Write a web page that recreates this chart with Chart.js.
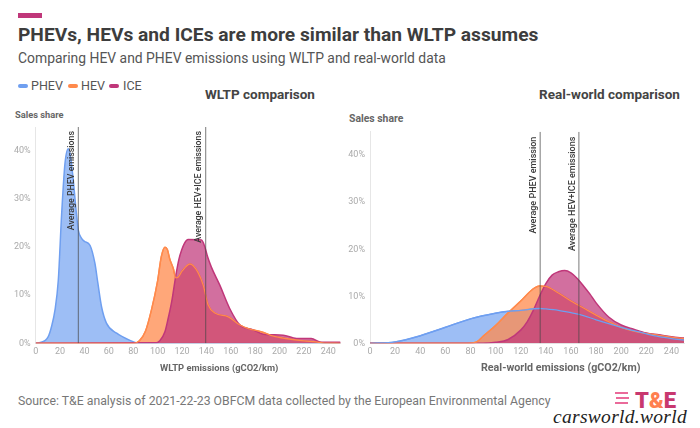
<!DOCTYPE html>
<html lang="en">
<head>
    <meta charset="UTF-8">
    <title>PHEVs, HEVs and ICEs</title>
    <script src="https://cdn.jsdelivr.net/npm/chart.js"></script>
    <style>
        html, body { margin: 0; padding: 0; background: #fff; }
        body {
            width: 700px;
            height: 428px;
            position: relative;
            overflow: hidden;
            font-family: Roboto, Arial, sans-serif;
            filter: blur(0.4px);
        }
        .txt { position: absolute; white-space: nowrap; line-height: 1; }
        canvas { position: absolute; }
        .swatch { position: absolute; width: 10px; height: 4px; border-radius: 2px; top: 84px; }
        .bold-label { font-weight: 700; color: #666; }
        .chart-title { font-weight: 700; font-size: 13.5px; color: #444; }
    </style>
</head>
<body>
    <div style="position:absolute;left:18px;top:13px;width:24px;height:5px;background:#c0377a"></div>
    <div class="txt" style="left:18px;top:25px;font-size:19.2px;font-weight:700;color:#3d3d3d">PHEVs, HEVs and ICEs are more similar than WLTP assumes</div>
    <div class="txt" style="left:18px;top:52px;font-size:13.9px;color:#555">Comparing HEV and PHEV emissions using WLTP and real-world data</div>

    <div class="swatch" style="left:18px;background:#6f9ff0"></div>
    <div class="txt" style="left:31px;top:80px;font-size:12.5px;color:#555">PHEV</div>
    <div class="swatch" style="left:68px;background:#ff8a4c"></div>
    <div class="txt" style="left:81px;top:80px;font-size:12.5px;color:#555">HEV</div>
    <div class="swatch" style="left:109px;background:#c0377a"></div>
    <div class="txt" style="left:123px;top:80px;font-size:12.5px;color:#555">ICE</div>

    <div class="txt chart-title" style="left:205px;top:88px">WLTP comparison</div>
    <div class="txt chart-title" style="left:539px;top:88px">Real-world comparison</div>
    <div class="txt bold-label" style="left:15px;top:110px;font-size:9.3px">Sales share</div>
    <div class="txt bold-label" style="left:349px;top:114px;font-size:10.4px">Sales share</div>

    <canvas id="wltpChart" width="345" height="270" style="left:0;top:110px"></canvas>
    <canvas id="realChart" width="360" height="270" style="left:340px;top:110px"></canvas>

    <div class="txt bold-label" style="left:160px;top:363px;font-size:9.4px">WLTP emissions (gCO2/km)</div>
    <div class="txt bold-label" style="left:481px;top:363px;font-size:10.7px">Real-world emissions (gCO2/km)</div>

    <div class="txt" style="left:18px;top:395px;font-size:12.27px;color:#777">Source: T&amp;E analysis of 2021-22-23 OBFCM data collected by the European Environmental Agency</div>
    <div style="position:absolute;left:615px;top:392px;width:13px;height:2px;background:#ea6a9a;box-shadow:1px 5px 0 #ea6a9a,0 10px 0 #ea6a9a"></div>
    <div class="txt" style="left:635px;top:390px;font-size:22px;font-weight:900;color:#c8386f">T<span style="color:#ff7f50">&amp;</span>E</div>
    <div class="txt" style="left:553px;top:407px;font-size:19.5px;font-style:italic;color:#222;font-family:'Liberation Serif',serif;letter-spacing:0.3px">carsworld.world</div>

    <script>
        const xTicks = [0, 20, 40, 60, 80, 100, 120, 140, 160, 180, 200, 220, 240];
        const yTicks = [0, 10, 20, 30, 40];

        // WLTP panel
        const wltpPhevX = [0, 3, 10.3, 13, 15.8, 18.5, 21.3, 24, 26.7, 28.5, 30.8, 33, 35, 37.5, 40, 44.5, 48.6, 51, 54, 58, 66.4, 77.3, 85, 250];
        const wltpPhevY = [0, 0.1, 1.4, 3.5, 6.9, 13, 27, 37.4, 40.5, 39, 34, 28, 23.5, 21.9, 21.2, 20.4, 16.6, 12.5, 7.6, 4.2, 2.1, 0.6, 0, 0];
        const wltpHevX = [0, 80, 85, 90, 95, 100, 103, 106, 108, 110, 112.8, 115, 117, 120, 126.5, 129, 133, 137.4, 141.4, 147, 158, 167.5, 175, 185, 195, 205, 220, 230, 235, 250];
        const wltpHevY = [0, 0, 0.5, 2.5, 7, 13, 18, 20, 19.5, 17.5, 15.6, 13.6, 13.8, 15, 16.5, 16.2, 14.8, 12.1, 8, 6.3, 5.5, 3.8, 3, 2.4, 1.5, 1, 0.5, 0.3, 0.1, 0];
        const wltpIceX = [0, 99, 102, 106, 108.5, 111.5, 115, 117.5, 119.7, 122, 125, 136, 138.8, 141, 144, 151, 159, 167.5, 178.4, 186.6, 203, 214, 226, 234, 250];
        const wltpIceY = [0, 0.1, 0.6, 2.4, 5, 8.6, 14.2, 17.5, 19.4, 20.8, 21.6, 21.5, 20, 18, 15.9, 12.1, 7.3, 3.8, 2.8, 1.9, 1.7, 1, 1, 0.2, 0.2];
        const wltpAverages = [35, 139.4];
        const wltpAverageLabels = ["Average PHEV emissions", "Average HEV+ICE emissions"];

        // Real-world panel
        const realPhevX = [0, 20, 40, 60, 80, 100, 110, 120, 135, 140, 150, 160, 170, 180, 190, 200, 210, 220, 230, 240, 250];
        const realPhevY = [0, 0.3, 1.6, 3.4, 5.2, 6.4, 6.8, 7, 7.4, 7.3, 7, 6.5, 5.9, 5, 4.2, 3.4, 2.7, 2, 1.4, 1, 0.7];
        const realHevX = [0, 78, 85, 90, 100, 110, 120, 130, 135, 140, 150, 160, 170, 180, 190, 200, 210, 220, 230, 240, 250];
        const realHevY = [0, 0, 0.3, 1.5, 3.8, 6.5, 9, 11.6, 12.2, 12.1, 10.7, 9, 7.5, 6, 4.6, 3.4, 2.6, 2.1, 1.7, 1.3, 1];
        const realIceX = [0, 90, 100, 110, 120, 125, 130, 135, 140, 145, 150, 155, 160, 165, 170, 175, 180, 190, 200, 210, 220, 230, 240, 250];
        const realIceY = [0, 0, 0.2, 0.8, 2.8, 4.5, 7, 10, 12.7, 14.5, 15.2, 15.5, 15, 13.8, 12.2, 10.5, 8.6, 5.6, 3.9, 3, 2.2, 1.8, 1.4, 1.1];
        const realAverages = [135.5, 166.3];
        const realAverageLabels = ["Average PHEV emission", "Average HEV+ICE emissions"];

        const toPoints = (xs, ys) => xs.map((x, i) => ({ x, y: ys[i] }));

        function areaSet(label, xs, ys, line, fill) {
            return {
                label,
                data: toPoints(xs, ys),
                borderColor: line,
                backgroundColor: fill,
                borderWidth: 1.5,
                pointRadius: 0,
                fill: "origin",
                cubicInterpolationMode: "monotone"
            };
        }

        // same curve without fill, so the line stays visible over the ICE area
        function lineSet(label, xs, ys, line) {
            return {
                label,
                data: toPoints(xs, ys),
                borderColor: line,
                borderWidth: 1.3,
                pointRadius: 0,
                fill: false,
                cubicInterpolationMode: "monotone"
            };
        }

        function averageSet(value) {
            return {
                data: [{ x: value, y: 0 }, { x: value, y: 45 }],
                borderColor: "rgba(70,70,70,0.6)",
                borderWidth: 1.2,
                pointRadius: 0,
                fill: false
            };
        }

        // rotated captions beside the average lines
        const averageLabels = {
            id: "averageLabels",
            afterDatasetsDraw(chart, args, opts) {
                const { ctx, scales } = chart;
                opts.values.forEach((v, i) => {
                    ctx.save();
                    ctx.translate(scales.x.getPixelForValue(v) - 6.5, scales.y.top + opts.top);
                    ctx.rotate(-Math.PI / 2);
                    ctx.font = "500 " + opts.size + "px Roboto";
                    ctx.fillStyle = "#3a3a3a";
                    ctx.textAlign = "right";
                    ctx.textBaseline = "middle";
                    ctx.fillText(opts.labels[i], 0, 0);
                    ctx.restore();
                });
            }
        };

        function makeChart(id, sets, values, labels, yAxisWidth, plotTop, plotRight, textTop, textSize) {
            new Chart(document.getElementById(id), {
                type: "line",
                data: { datasets: [...values.map(averageSet), ...sets] },
                plugins: [averageLabels],
                options: {
                    responsive: false,
                    animation: false,
                    layout: { padding: { top: plotTop, right: plotRight, left: 0, bottom: 0 } },
                    plugins: {
                        legend: { display: false },
                        tooltip: { enabled: false },
                        averageLabels: { values, labels, top: textTop, size: textSize }
                    },
                    scales: {
                        x: {
                            type: "linear",
                            min: 0,
                            max: 250,
                            afterBuildTicks: s => { s.ticks = xTicks.map(value => ({ value })); },
                            afterFit: s => { s.height = 36.7; },
                            grid: { display: false, tickLength: 0 },
                            border: { color: "#e6e6e6" },
                            ticks: { font: { size: 9, family: "Roboto" }, color: "#aaa", maxRotation: 0, autoSkip: false, padding: 3 }
                        },
                        y: {
                            min: 0,
                            max: 45,
                            afterBuildTicks: s => { s.ticks = yTicks.map(value => ({ value })); },
                            afterFit: s => { s.width = yAxisWidth; },
                            grid: { display: false, tickLength: 0 },
                            border: { color: "#e6e6e6" },
                            ticks: { font: { size: 9, family: "Roboto" }, color: "#aaa", padding: 5, callback: v => v + "%" }
                        }
                    }
                }
            });
        }

        const blue = ["#6f9ff0", "rgba(111,159,240,0.68)"];
        const orange = ["#ff8a4c", "rgba(255,138,76,0.75)"];
        const pink = ["#c0377a", "rgba(192,55,122,0.72)"];

        makeChart("wltpChart", [
            lineSet("HEV line", wltpHevX, wltpHevY, orange[0]),
            areaSet("ICE", wltpIceX, wltpIceY, ...pink),
            areaSet("HEV", wltpHevX, wltpHevY, ...orange),
            areaSet("PHEV", wltpPhevX, wltpPhevY, ...blue)
        ], wltpAverages, wltpAverageLabels, 35.7, 17, 4.5, 4, 8.8);

        makeChart("realChart", [
            lineSet("PHEV line", realPhevX, realPhevY, blue[0]),
            lineSet("HEV line", realHevX, realHevY, orange[0]),
            areaSet("ICE", realIceX, realIceY, ...pink),
            areaSet("HEV", realHevX, realHevY, ...orange),
            areaSet("PHEV", realPhevX, realPhevY, ...blue)
        ], realAverages, realAverageLabels, 30, 21.7, 16, 5, 9);
    </script>
</body>
</html>
